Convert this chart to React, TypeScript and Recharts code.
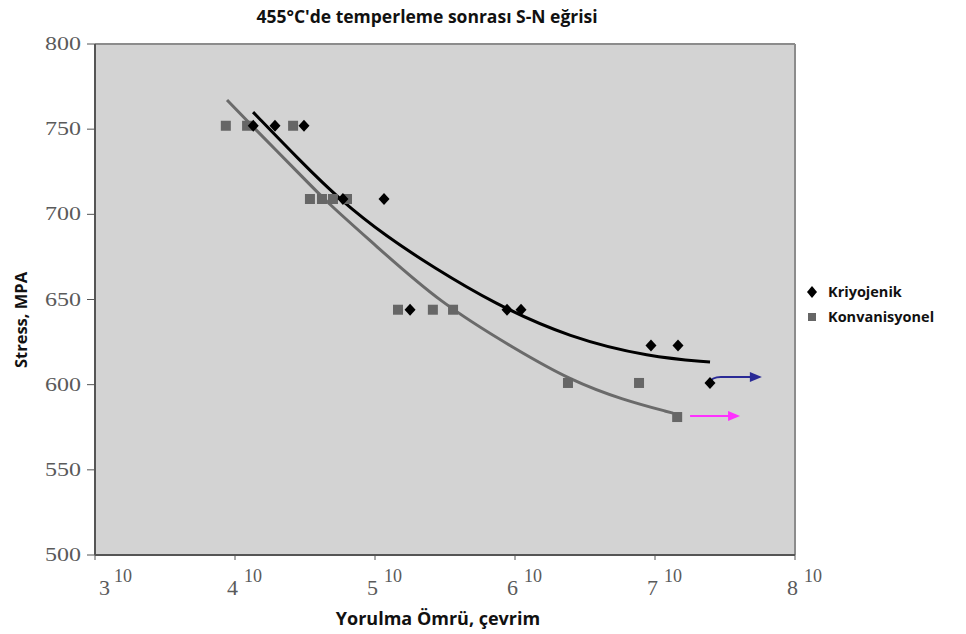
import { ComposedChart, Scatter, Line, XAxis, YAxis, CartesianGrid, ReferenceLine } from "recharts";

// cycles to failure (N) and stress (MPa)
const kriyoN = [13500, 19300, 31100, 59000, 116000, 178000, 877000, 1104000, 9360000, 14600000, 24700000];
const kriyoS = [752, 752, 752, 709, 709, 644, 644, 644, 623, 623, 601];

const konvN = [8600, 12200, 26000, 34300, 41800, 50100, 63100, 146000, 259000, 361000, 2390000, 7690000, 14400000];
const konvS = [752, 752, 752, 709, 709, 709, 709, 644, 644, 644, 601, 601, 581];

// trend curves
const kriyoFitN = [13460, 29110, 56230, 121900, 259400, 696600, 2472000, 9204000, 24720000];
const kriyoFitS = [760, 731.5, 708.4, 686.7, 669.1, 647.9, 627.4, 616.2, 613.3];

const konvFitN = [8770, 13460, 29110, 45390, 96830, 291100, 1033000, 2472000, 5902000, 13450000];
const konvFitS = [767.1, 751.3, 723.5, 707, 683.1, 647.9, 620.3, 602.7, 591, 583.3];

const xTicks = [1e3, 1e4, 1e5, 1e6, 1e7, 1e8];
const yTicks = [500, 550, 600, 650, 700, 750, 800];

const zip = (n: number[], s: number[]) => n.map((v, i) => ({ n: v, s: s[i] }));

const kriyoData = zip(kriyoN, kriyoS);
const konvData = zip(konvN, konvS);
const kriyoFit = zip(kriyoFitN, kriyoFitS);
const konvFit = zip(konvFitN, konvFitS);

const Diamond = (props: any) => {
  const { cx, cy } = props;
  return <polygon points={`${cx},${cy - 6} ${cx + 5.5},${cy} ${cx},${cy + 6} ${cx - 5.5},${cy}`} fill="#000" />;
};

const Square = (props: any) => {
  const { cx, cy } = props;
  return <rect x={cx - 5} y={cy - 5} width={10} height={10} fill="#666" />;
};

// odd "3^10" style labels as in the original figure
const XTick = (props: any) => {
  const { x, y, payload, index } = props;
  const exp = Math.round(Math.log10(payload.value));
  const first = index === 0;
  return (
    <g fontFamily="'Liberation Serif', serif" fill="#5a5a5a">
      <text x={first ? x + 4 : x + 3} y={y + 33} fontSize={22} textAnchor={first ? "start" : "end"}>{exp}</text>
      <text x={first ? x + 19 : x + 9} y={y + 20} fontSize={18} textAnchor="start">10</text>
    </g>
  );
};

const YTick = (props: any) => {
  const { x, y, payload } = props;
  return (
    <text
      x={x - 40}
      y={y + 6}
      fontFamily="'Liberation Serif', serif"
      fontSize={18}
      fill="#5a5a5a"
      textLength={36}
      lengthAdjust="spacingAndGlyphs"
    >
      {payload.value}
    </text>
  );
};

const Arrow = (props: any) => {
  const { x1, y1, x2, y2, color, hook } = props;
  const d = hook
    ? `M${x1 - 4},${y1 + 6} Q${x1 - 1},${y1} ${x1 + 8},${y1} L${x2 - 8},${y2}`
    : `M${x1},${y1} L${x2 - 8},${y2}`;
  return (
    <g>
      <path d={d} stroke={color} strokeWidth={2} fill="none" />
      <polygon points={`${x2},${y2} ${x2 - 12},${y2 - 5} ${x2 - 12},${y2 + 5}`} fill={color} />
    </g>
  );
};

const labelFont = { fontFamily: "'Open Sans', sans-serif", fontWeight: 700, color: "#111" };

export default function App() {
  return (
    <div style={{ position: "absolute", left: 0, top: 0, width: 966, height: 634, background: "#fff" }}>
      <div
        style={{
          ...labelFont,
          position: "absolute",
          top: 6,
          left: 227,
          width: 400,
          textAlign: "center",
          fontSize: 17.5,
          lineHeight: "20px",
        }}
      >
        455°C'de temperleme sonrası S-N eğrisi
      </div>
      <ComposedChart width={966} height={634} margin={{ top: 44, right: 171, bottom: 19, left: 35 }}>
        <CartesianGrid fill="#d3d3d3" fillOpacity={1} horizontal={false} vertical={false} />
        <XAxis
          type="number"
          dataKey="n"
          scale="log"
          domain={[1e3, 1e8]}
          ticks={xTicks}
          allowDataOverflow
          height={60}
          tick={<XTick />}
          tickSize={5}
          axisLine={{ stroke: "#555", strokeWidth: 2 }}
          tickLine={{ stroke: "#555" }}
        />
        <YAxis
          type="number"
          dataKey="s"
          domain={[500, 800]}
          ticks={yTicks}
          width={60}
          tickSize={8}
          axisLine={{ stroke: "#555", strokeWidth: 2 }}
          tickLine={{ stroke: "#555" }}
          tick={<YTick />}
        />
        <ReferenceLine y={800} stroke="#8c8c8c" strokeWidth={2} />
        <ReferenceLine x={1e8} stroke="#8c8c8c" strokeWidth={2} />
        <Line data={kriyoFit} dataKey="s" type="basis" stroke="#000" strokeWidth={3} dot={false} isAnimationActive={false} />
        <Line data={konvFit} dataKey="s" type="basis" stroke="#6a6a6a" strokeWidth={3} dot={false} isAnimationActive={false} />
        <Scatter data={konvData} dataKey="s" shape={<Square />} isAnimationActive={false} />
        <Scatter data={kriyoData} dataKey="s" shape={<Diamond />} isAnimationActive={false} />
        <ReferenceLine
          segment={[{ x: 25900000, y: 604.5 }, { x: 58000000, y: 604.5 }]}
          shape={(p: any) => <Arrow {...p} color="#2a2a96" hook />}
        />
        <ReferenceLine
          segment={[{ x: 17800000, y: 581.6 }, { x: 40500000, y: 581.6 }]}
          shape={(p: any) => <Arrow {...p} color="#ff30ff" />}
        />
      </ComposedChart>
      <div
        style={{
          ...labelFont,
          position: "absolute",
          left: 288,
          top: 607,
          width: 300,
          textAlign: "center",
          fontSize: 18,
          lineHeight: "22px",
        }}
      >
        Yorulma Ömrü, çevrim
      </div>
      <div
        style={{
          ...labelFont,
          position: "absolute",
          left: -79,
          top: 309,
          width: 200,
          height: 22,
          textAlign: "center",
          fontSize: 16.5,
          lineHeight: "22px",
          transform: "rotate(-90deg)",
        }}
      >
        Stress, MPA
      </div>
      <div
        style={{
          ...labelFont,
          position: "absolute",
          left: 806,
          top: 279,
          fontSize: 14.5,
          lineHeight: "25px",
        }}
      >
        <div style={{ display: "flex", alignItems: "center" }}>
          <svg width={18} height={14}>
            <polygon points="6,1 11,7 6,13 1,7" fill="#000" />
          </svg>
          <span style={{ marginLeft: 4 }}>Kriyojenik</span>
        </div>
        <div style={{ display: "flex", alignItems: "center" }}>
          <svg width={18} height={14}>
            <rect x={2} y={3} width={8} height={8} fill="#666" />
          </svg>
          <span style={{ marginLeft: 4 }}>Konvanisyonel</span>
        </div>
      </div>
    </div>
  );
}
